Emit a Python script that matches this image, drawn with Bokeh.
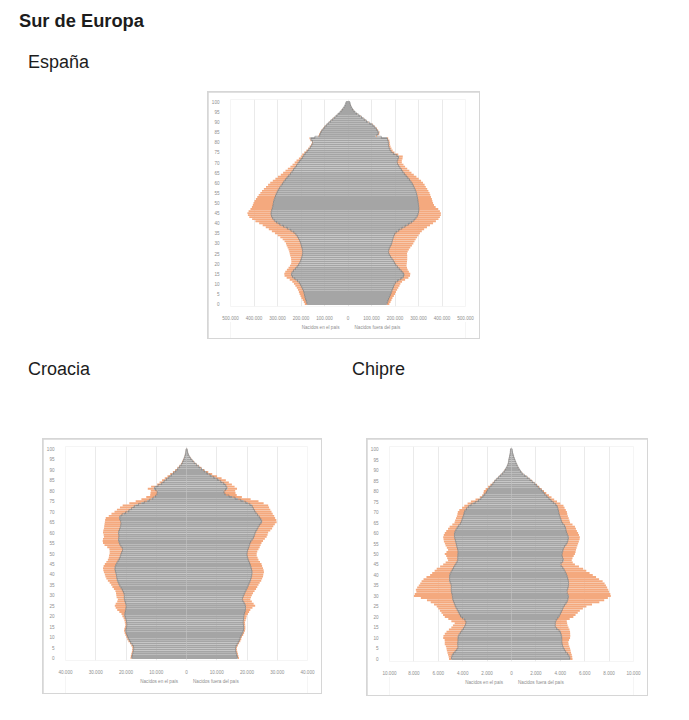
from bokeh.plotting import figure
from bokeh.models import (ColumnDataSource, FixedTicker, CustomJSTickFormatter,
                          Legend, LegendItem, Range1d, Div)
from bokeh.layouts import column, row
from bokeh.embed import file_html
from bokeh.resources import INLINE

# ---------------- data ----------------
AGES = list(range(0, 101))
Y_TICKS = list(range(0, 101, 5))

SERIES_LABELS = ["Nacidos en el país", "Nacidos fuera del país"]

# España (miles de personas)
ESP_H_NAT = [174,176,179,182,184,186,188,191,195,199,
             204,210,220,232,240,241,236,228,220,213,
             207,203,200,197,195,193,193,194,196,199,
             201,204,208,213,218,225,236,250,266,283,
             298,310,318,324,327,328,326,323,321,319,
             318,316,313,310,307,303,299,294,288,282,
             276,270,263,256,248,241,235,229,222,216,
             210,204,196,190,186,178,170,163,157,152,
             148,155,160,122,119,116,110,103,96,88,
             79,70,60,51,42,33,26,19,14,10,8]
ESP_H_EXT = [10,12,14,16,18,20,21,22,23,25,
             26,27,28,29,30,30,31,32,33,34,
             35,38,42,46,51,55,57,59,61,62,
             63,66,70,75,81,86,88,87,84,80,
             80,84,90,96,99,100,97,92,88,86,
             84,82,79,76,73,70,67,64,61,58,
             55,50,46,42,38,35,31,27,23,20,
             17,15,13,11,9,8,7,6,6,5,
             5,5,4,4,4,3,3,3,3,2,
             2,2,2,1,1,1,1,1,0,0,0]
ESP_M_NAT = [165,168,171,174,178,182,185,188,192,195,
             198,205,218,232,238,238,230,222,214,206,
             200,195,190,184,178,173,172,174,177,182,
             186,188,190,193,196,200,210,222,236,250,
             264,276,286,292,297,299,301,302,301,300,
             299,298,297,295,293,291,288,284,280,276,
             271,265,258,251,243,236,230,224,218,213,
             208,210,214,216,200,186,180,176,173,172,
             172,170,166,118,128,130,124,118,110,101,
             84,74,63,52,40,29,22,16,12,9,8]
ESP_M_EXT = [11,13,14,15,17,18,19,21,22,24,
             25,25,25,25,26,27,29,32,37,43,
             50,56,62,68,74,78,82,85,88,90,
             92,95,98,101,104,106,104,102,100,99,
             98,98,99,99,98,96,90,82,72,66,
             63,61,60,58,57,56,54,53,51,50,
             48,46,43,40,37,34,31,28,25,23,
             21,19,18,17,14,12,10,9,8,7,
             6,6,5,5,5,4,4,4,3,3,
             3,2,2,2,1,1,1,1,1,0,0]
ESP_UNIT = 1000
ESP_TICKS = [-500000, -400000, -300000, -200000, -100000, 0,
             100000, 200000, 300000, 400000, 500000]

# Croacia (personas)
HRV_H_NAT = [18100,18000,17800,17600,17500,17400,17700,18200,18700,19100,
             19400,19700,19900,20100,20000,19800,19700,19800,19900,20100,
             20400,20400,20300,20100,20000,19900,20100,20300,20500,20600,
             20500,20700,21000,21400,21800,22200,22500,22800,23000,23100,
             23200,23400,23600,23700,23500,23200,22800,22400,22000,21800,
             21600,21300,21000,21400,21900,22200,22400,22500,22300,22400,
             22500,22300,22000,21800,21700,21600,21900,22200,21900,20800,
             19500,18600,17700,16800,14900,13000,11600,10600,9800,9700,
             9600,10800,10200,8600,7800,7000,6200,5400,4600,3900,
             3200,2600,2000,1500,1200,900,650,450,300,200,150]
HRV_H_EXT = [400,400,450,450,500,550,550,500,500,500,
             500,500,550,550,550,550,550,600,650,700,
             800,1100,1900,2800,3400,3800,3300,2600,2200,2500,
             2700,2600,2500,2600,2700,2700,2900,3200,3500,3700,
             3800,3900,3900,3900,3900,3800,3700,3600,3700,3800,
             3800,4100,4500,4800,5200,5400,5300,5100,5000,5000,
             5100,5200,5300,5400,5400,5400,5000,4500,3800,4000,
             4300,4400,4300,4300,4000,3800,3300,2700,2200,2200,
             2200,2000,1500,1100,1100,1100,1000,900,800,600,
             500,400,350,300,250,200,150,100,80,50,30]
HRV_M_NAT = [16900,16700,16500,16300,16200,16200,16500,16900,17300,17600,
             17800,18200,18500,18800,18900,18900,18800,18700,18800,18900,
             18900,19100,19300,19500,19500,19500,19200,18800,18400,18600,
             18900,19200,19500,19900,20200,20500,20800,21100,21300,21500,
             21600,21700,21600,21400,21200,21000,20700,20400,20200,20000,
             20000,20100,20300,20600,20800,21000,21400,21900,22300,22500,
             22700,23100,23500,23800,24300,24900,24800,24300,23800,23200,
             22700,22300,21900,21600,20300,18900,17000,15100,13000,12400,
             12300,13500,13200,12800,11800,10800,9600,8400,7200,6300,
             5400,4500,3700,2900,2200,1600,1100,700,450,300,200]
HRV_M_EXT = [450,450,500,500,500,500,500,500,500,500,
             500,550,550,550,550,550,600,650,750,850,
             1000,1200,1400,1600,2300,3200,3000,2800,2700,2700,
             2700,2800,3000,3100,3200,3300,3400,3600,3700,3800,
             3800,3900,3900,3900,3800,3800,3600,3400,3300,3200,
             3200,3300,3500,3600,3700,3800,3900,4000,4200,4300,
             4300,4600,4800,4900,4900,4900,4900,5000,5200,5300,
             5400,5400,5400,5400,5200,4900,4200,3200,3600,3800,
             3800,3200,2700,2200,2200,2200,2000,1700,1300,900,
             500,400,350,300,250,200,150,100,80,50,30]
HRV_TICKS = [-40000, -30000, -20000, -10000, 0, 10000, 20000, 30000, 40000]

# Chipre (personas)
CYP_H_NAT = [4930,4900,4850,4700,4550,4400,4380,4420,4400,4380,
             4400,4350,4250,4130,4000,3870,3800,3730,3730,3900,
             4130,4230,4320,4400,4500,4590,4650,4720,4800,4830,
             4850,4880,4930,4940,4930,4930,4980,5070,5080,5070,
             5070,5000,4900,4800,4700,4590,4500,4400,4420,4400,
             4400,4380,4400,4450,4500,4530,4580,4620,4670,4680,
             4670,4600,4500,4400,4250,4130,4080,4020,3950,3900,
             3870,3780,3600,3470,3150,2800,2600,2400,2270,2100,
             2000,1900,1750,1600,1450,1330,1150,980,800,650,
             530,420,340,270,240,220,180,140,110,90,80]
CYP_H_EXT = [190,250,350,550,750,930,1000,1050,1070,1100,
             1200,1230,1220,1200,1130,1060,1000,930,1200,1280,
             1340,1380,1420,1470,1500,1540,1700,1900,2130,2600,
             3150,3050,2870,2900,2800,2670,2500,2300,2130,1900,
             1600,1500,1400,1330,1150,1010,900,800,850,950,
             1070,950,800,850,900,930,960,950,930,870,
             800,750,700,670,600,540,540,530,530,530,
             530,500,450,400,450,530,350,200,130,200,
             270,220,170,130,90,50,50,40,40,30,
             30,20,20,20,10,10,10,10,10,10,10]
CYP_M_NAT = [4800,4750,4670,4500,4380,4270,4200,4150,4130,4120,
             4130,4100,4050,4000,3800,3600,3580,3590,3600,3720,
             3870,3950,4050,4130,4200,4270,4400,4530,4600,4650,
             4670,4600,4530,4580,4640,4670,4680,4670,4630,4580,
             4530,4450,4350,4270,4130,4000,4120,4270,4200,4150,
             4130,4180,4230,4270,4400,4530,4600,4650,4670,4600,
             4530,4480,4440,4400,4270,4130,4080,4020,3950,3900,
             3870,3830,3780,3730,3530,3330,3150,2980,2800,2650,
             2530,2350,2170,2000,1800,1600,1400,1180,930,800,
             670,570,480,400,330,270,200,150,100,70,50]
CYP_M_EXT = [200,230,270,380,460,530,540,530,530,600,
             670,720,760,800,950,1070,1020,970,930,1050,
             1200,1300,1380,1470,1650,1870,2200,2670,3000,3250,
             3470,3500,3470,3350,3200,3070,2950,2800,2550,2350,
             2130,1950,1780,1600,1400,1200,900,670,800,950,
             1070,1070,1060,1070,1000,930,920,930,930,930,
             930,880,840,800,730,670,670,670,670,670,
             670,620,570,530,470,400,350,300,270,200,
             130,120,100,90,80,70,60,50,40,30,
             20,20,20,10,10,10,10,10,0,0,0]
CYP_TICKS = [-10000, -8000, -6000, -4000, -2000, 0, 2000, 4000, 6000, 8000, 10000]

# ---------------- style ----------------
GRAY = "#a5a5a5"
GRAY_EDGE = "#7a7a7a"
ORANGE = "#f4a97e"
GRID = "#e4e4e4"
LABEL = "#8e8e8e"
BOX = "#d6d6d6"
FONT = "Liberation Sans"
TICK_FS = "4.6px"


def tick_formatter():
    return CustomJSTickFormatter(code="""
        const v = Math.abs(tick);
        return v.toString().replace(/\\B(?=(\\d{3})+(?!\\d))/g, '.');
    """)


def pyramid(h_nat, h_ext, m_nat, m_ext, unit, ticks, width, height,
            bl, br, bt, bb):
    xmax = ticks[-1]
    hn = [v * unit for v in h_nat]
    he = [v * unit for v in h_ext]
    mn = [v * unit for v in m_nat]
    me = [v * unit for v in m_ext]
    ys = AGES + AGES
    nat = ColumnDataSource(dict(
        y=ys,
        left=[-v for v in hn] + [0] * len(mn),
        right=[0] * len(hn) + mn))
    ext = ColumnDataSource(dict(
        y=ys,
        left=[-(a + b) for a, b in zip(hn, he)] + mn,
        right=[-a for a in hn] + [a + b for a, b in zip(mn, me)]))

    p = figure(width=width, height=height,
               x_range=Range1d(-xmax, xmax), y_range=Range1d(-1.2, 101.2),
               toolbar_location=None, output_backend="svg",
               min_border_left=bl, min_border_right=br,
               min_border_top=bt, min_border_bottom=bb,
               margin=(1, 1, 0, 1), background_fill_color="white",
               border_fill_color="white")
    p.outline_line_color = None

    p.hbar(y="y", left="left", right="right", height=0.94,
           source=ext, fill_color=ORANGE, line_color=None)
    p.hbar(y="y", left="left", right="right", height=0.94,
           source=nat, fill_color=GRAY, line_color=None)
    # contorno oscuro de los nacidos en el país
    p.step(x=[-v for v in hn], y=AGES, mode="center", line_color=GRAY_EDGE,
           line_width=0.6)
    p.step(x=mn, y=AGES, mode="center", line_color=GRAY_EDGE, line_width=0.6)

    p.xaxis.ticker = FixedTicker(ticks=ticks)
    p.xaxis.formatter = tick_formatter()
    p.yaxis.ticker = FixedTicker(ticks=Y_TICKS)
    for ax in (p.xaxis, p.yaxis):
        ax.axis_line_color = None
        ax.major_tick_line_color = None
        ax.minor_tick_line_color = None
        ax.major_label_text_font = FONT
        ax.major_label_text_font_size = TICK_FS
        ax.major_label_text_color = LABEL
    p.xaxis.major_label_standoff = 3
    p.yaxis.major_label_standoff = 5

    p.xgrid.ticker = FixedTicker(ticks=ticks)
    p.xgrid.grid_line_color = GRID
    p.xgrid.grid_line_width = 0.8
    p.ygrid.grid_line_color = None
    return p


def legend_fig(width, height):
    lf = figure(width=width, height=height, toolbar_location=None,
                output_backend="svg", x_axis_location=None,
                y_axis_location=None, min_border=0,
                x_range=Range1d(0, 1), y_range=Range1d(0, 1),
                margin=(-1, 1, 1, 1), background_fill_color="white",
                border_fill_color="white")
    lf.outline_line_color = None
    lf.grid.visible = False
    empty = dict(y=[], left=[], right=[])
    r_nat = lf.hbar(y="y", left="left", right="right", height=1,
                    source=ColumnDataSource(empty), fill_color=GRAY,
                    line_color="#4d4d4d", line_width=0.8)
    r_ext = lf.hbar(y="y", left="left", right="right", height=1,
                    source=ColumnDataSource(empty), fill_color=ORANGE,
                    line_color=None)
    legend = Legend(items=[LegendItem(label=SERIES_LABELS[0], renderers=[r_nat]),
                           LegendItem(label=SERIES_LABELS[1], renderers=[r_ext])],
                    orientation="horizontal", location="top_center",
                    label_text_font=FONT, label_text_font_size=TICK_FS,
                    label_text_color=LABEL, glyph_width=5, glyph_height=5,
                    label_height=5, label_standoff=2, spacing=8, padding=1,
                    margin=4, border_line_color=None,
                    background_fill_alpha=0)
    lf.add_layout(legend)
    return lf


def chart_box(plot, leg, margin):
    return column(plot, leg, spacing=0, margin=margin,
                  styles={"background-color": BOX})


def text_div(text, size, weight, margin, width):
    return Div(text=text, width=width, height=22, margin=margin,
               styles={"font-family": f"'{FONT}', Arial, sans-serif",
                       "font-size": f"{size}px", "font-weight": weight,
                       "color": "#1c1c1c", "line-height": "normal",
                       "white-space": "nowrap"})


title = text_div("Sur de Europa", 18.3, "bold", (10, 0, 0, 19), 300)
esp_t = text_div("España", 18, "normal", (20, 0, 0, 28), 200)
esp_box = chart_box(
    pyramid(ESP_H_NAT, ESP_H_EXT, ESP_M_NAT, ESP_M_EXT, ESP_UNIT, ESP_TICKS,
            271, 230, 19, 14, 7, 10),
    legend_fig(271, 17), (17, 0, 0, 207))
hrv_t = text_div("Croacia", 18, "normal", (20, 0, 0, 28), 100)
cyp_t = text_div("Chipre", 18, "normal", (20, 0, 0, 224), 100)
hrv_box = chart_box(
    pyramid(HRV_H_NAT, HRV_H_EXT, HRV_M_NAT, HRV_M_EXT, 1, HRV_TICKS,
            278, 237, 17, 14, 7, 9),
    legend_fig(278, 18), (57, 0, 0, 42))
cyp_box = chart_box(
    pyramid(CYP_H_NAT, CYP_H_EXT, CYP_M_NAT, CYP_M_EXT, 1, CYP_TICKS,
            280, 238, 16, 14, 7, 9),
    legend_fig(280, 19), (57, 0, 0, 44))

page = column(title, esp_t, esp_box, row(hrv_t, cyp_t, spacing=0),
              row(hrv_box, cyp_box, spacing=0), spacing=0)

open("out.html", "w").write(file_html(page, INLINE))
